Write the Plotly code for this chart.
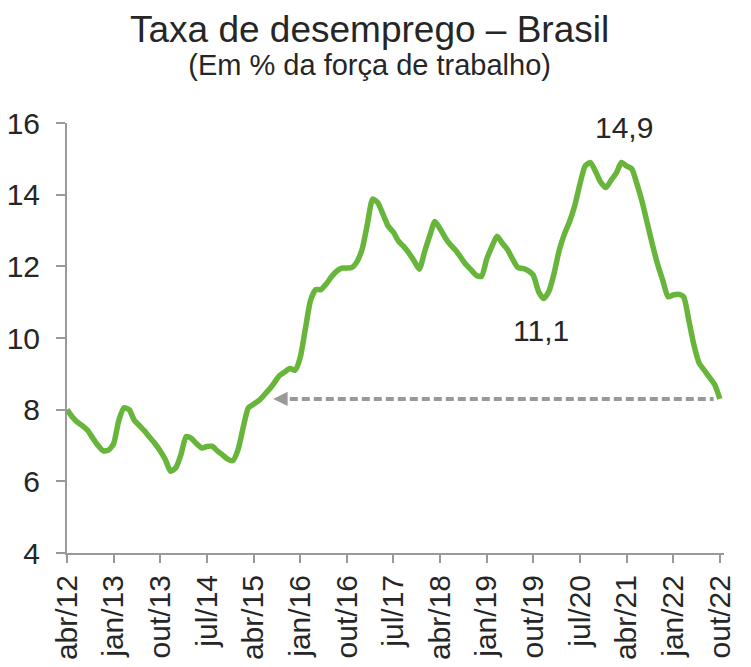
import plotly.graph_objects as go

MONTHS = ["jan", "fev", "mar", "abr", "mai", "jun", "jul", "ago", "set", "out", "nov", "dez"]

# Unemployment rate (% of labour force), moving quarter ending in month, abr/12 .. out/22
rate_2012 = [8.0, 7.8, 7.65, 7.55, 7.42, 7.2, 7.0, 6.85, 6.87]              # abr-dez
rate_2013 = [7.05, 7.7, 8.05, 8.0, 7.7, 7.55, 7.4, 7.22, 7.05, 6.85, 6.6, 6.28]
rate_2014 = [6.38, 6.75, 7.25, 7.2, 7.05, 6.93, 6.97, 6.98, 6.85, 6.74, 6.62, 6.58]
rate_2015 = [6.88, 7.5, 8.05, 8.15, 8.25, 8.4, 8.56, 8.75, 8.95, 9.05, 9.15, 9.1]
rate_2016 = [9.45, 10.25, 11.05, 11.35, 11.35, 11.5, 11.7, 11.86, 11.95, 11.95, 11.97, 12.14]
rate_2017 = [12.5, 13.2, 13.88, 13.77, 13.45, 13.12, 12.95, 12.7, 12.55, 12.37, 12.15, 11.92]
rate_2018 = [12.4, 12.85, 13.25, 13.05, 12.8, 12.6, 12.45, 12.25, 12.05, 11.9, 11.75, 11.72]
rate_2019 = [12.2, 12.55, 12.84, 12.65, 12.47, 12.2, 11.97, 11.94, 11.88, 11.75, 11.3, 11.1]
rate_2020 = [11.3, 11.8, 12.45, 12.9, 13.25, 13.7, 14.3, 14.8, 14.9, 14.65, 14.35, 14.2]
rate_2021 = [14.4, 14.6, 14.9, 14.8, 14.72, 14.3, 13.8, 13.2, 12.6, 12.05, 11.6, 11.15]
rate_2022 = [11.2, 11.22, 11.15, 10.5, 9.8, 9.3, 9.1, 8.9, 8.7, 8.3]          # jan-out

values = (rate_2012 + rate_2013 + rate_2014 + rate_2015 + rate_2016 + rate_2017
          + rate_2018 + rate_2019 + rate_2020 + rate_2021 + rate_2022)

# month categories abr/12 .. out/22
categories = []
y, m = 2012, 3
while len(categories) < len(values):
    categories.append(f"{MONTHS[m]}/{y % 100:02d}")
    m += 1
    if m == 12:
        m, y = 0, y + 1

tick_labels = ["abr/12", "jan/13", "out/13", "jul/14", "abr/15", "jan/16", "out/16",
               "jul/17", "abr/18", "jan/19", "out/19", "jul/20", "abr/21", "jan/22", "out/22"]
y_ticks = [4, 6, 8, 10, 12, 14, 16]

title_text = "Taxa de desemprego – Brasil"
subtitle_text = "(Em % da força de trabalho)"

# highlighted values
peak_label, peak_month = "14,9", "mar/21"
low_label, low_month = "11,1", "nov/19"
last_label = "8,3"
ref_level = 8.3
arrow_tip_month = "jul/15"

TEXT = "#262626"
AXIS = "#999999"
GREEN = "#67B53A"
FONT = "Liberation Sans, Arial, sans-serif"

idx = {c: i for i, c in enumerate(categories)}
n = len(values)

fig = go.Figure()
fig.add_trace(go.Scatter(
    x=list(range(n)), y=values, mode="lines",
    line=dict(color=GREEN, width=5.5, shape="spline", smoothing=0.6),
    hoverinfo="skip", showlegend=False,
))

# dashed reference line at the last value
tip = idx[arrow_tip_month] + 0.8
fig.add_shape(type="line", xref="x", yref="y",
              x0=tip + 3.2, x1=n - 2.2, y0=ref_level, y1=ref_level,
              line=dict(color=AXIS, width=4, dash="8px,4px"))
fig.add_annotation(x=tip, y=ref_level, ax=tip + 2.6, ay=ref_level,
                   xref="x", yref="y", axref="x", ayref="y",
                   text="", showarrow=True, arrowhead=2, arrowsize=0.9,
                   arrowwidth=3.2, arrowcolor=AXIS, standoff=0)

fig.add_annotation(x=idx[peak_month] + 0.5, y=15.87, text=peak_label, showarrow=False,
                   xref="x", yref="y", xanchor="center", yanchor="middle",
                   font=dict(size=30, color=TEXT, family=FONT))
fig.add_annotation(x=idx[low_month] + 0.4, y=10.2, text=low_label, showarrow=False,
                   xref="x", yref="y", xanchor="center", yanchor="middle",
                   font=dict(size=30, color=TEXT, family=FONT))
fig.add_annotation(x=n - 1 + 1.1, y=7.41, text=last_label, showarrow=False,
                   xref="x", yref="y", xanchor="center", yanchor="middle",
                   font=dict(size=30, color=TEXT, family=FONT))

# title + subtitle as one two-line text block
fig.add_annotation(x=0.461, y=1 + 115 / 430, xref="paper", yref="paper", showarrow=False,
                   xanchor="center", yanchor="top", align="center", borderpad=0,
                   text=(f"<span style='font-size:37px'>{title_text}</span><br>"
                         f"<span style='font-size:29px'>{subtitle_text}</span>"),
                   font=dict(size=25, color=TEXT, family=FONT))

fig.update_layout(
    width=743, height=659,
    margin=dict(l=59, r=27, t=115, b=114, pad=0),
    paper_bgcolor="white", plot_bgcolor="white",
    font=dict(family=FONT, color=TEXT, size=30),
    xaxis=dict(
        range=[0, n - 1 + 0.8],
        tickmode="array",
        tickvals=[idx[t] for t in tick_labels],
        ticktext=tick_labels,
        tickangle=-90,
        ticks="outside", ticklen=8, tickwidth=2, tickcolor=AXIS,
        showline=True, linecolor=AXIS, linewidth=2,
        showgrid=False, zeroline=False, automargin=False,
        tickfont=dict(size=30, color=TEXT, family=FONT),
    ),
    yaxis=dict(
        range=[4, 16],
        tickmode="array", tickvals=y_ticks, ticktext=[str(v) for v in y_ticks],
        ticks="outside", ticklen=9, tickwidth=2, tickcolor=AXIS,
        showline=True, linecolor=AXIS, linewidth=2,
        showgrid=False, zeroline=False, automargin=False,
        ticklabelstandoff=10,
        tickfont=dict(size=30, color=TEXT, family=FONT),
    ),
)

fig.write_html("out.html")
